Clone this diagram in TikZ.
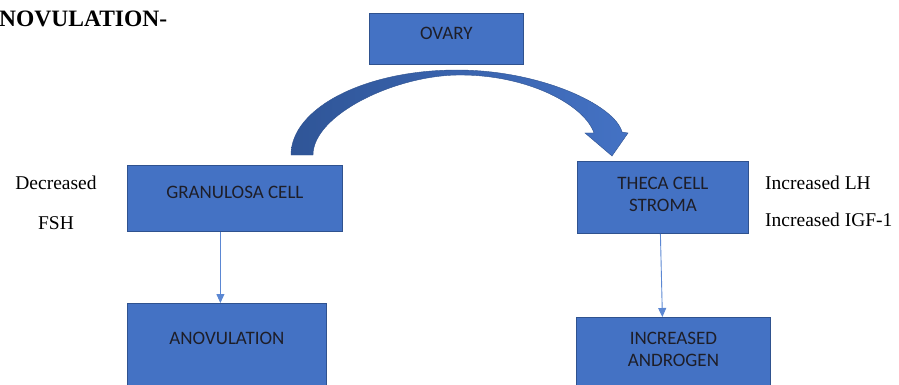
\documentclass[tikz,border=0pt]{standalone}
\usepackage{fontspec}
\setmainfont{Liberation Serif}
\newfontfamily\boxfont{Carlito}
\usetikzlibrary{arrows.meta}
\definecolor{boxblue}{HTML}{4472C4}
\definecolor{boxedge}{HTML}{2F528F}
\definecolor{arcdark}{HTML}{2F5597}
\definecolor{connblue}{HTML}{5B87D3}
\definecolor{boxtext}{HTML}{1E1E28}
\begin{document}
\begin{tikzpicture}[x=1pt,y=-1pt,
  bluebox/.style={draw=boxedge, line width=0.8pt, fill=boxblue, inner sep=0pt, anchor=north west},
  boxlabel/.style={font=\boxfont\fontsize{19}{22}\selectfont, text=boxtext, align=center, anchor=center, inner sep=0pt},
  sidelabel/.style={font=\fontsize{19.5}{23}\selectfont, inner sep=0pt},
  conn/.style={draw=connblue, line width=0.9pt, -{Triangle[width=8pt,length=9pt]}},
  bigarrow/.style={left color=arcdark, right color=boxblue, draw=boxedge, line width=0.4pt}]
\clip (0,0) rectangle (899,385);
\useasboundingbox (0,0) rectangle (899,385);

% title
\node[anchor=base west, font=\bfseries\fontsize{23.5}{28}\selectfont, inner sep=0pt] (title) at (-1,27) {NOVULATION-};

% boxes
\node[bluebox, minimum width=154pt, minimum height=51pt,
      label={[boxlabel, yshift=-20pt]north:OVARY}] (ovary) at (369,13) {};
\node[bluebox, minimum width=215pt, minimum height=66pt,
      label={[boxlabel, yshift=-27pt]north:GRANULOSA CELL}] (gran) at (127,165) {};
\node[bluebox, minimum width=171pt, minimum height=72pt,
      label={[boxlabel, yshift=-33pt]north:{THECA CELL\\STROMA}}] (theca) at (577,161) {};
\node[bluebox, minimum width=199pt, minimum height=100pt,
      label={[boxlabel, yshift=-35pt]north:ANOVULATION}] (anov) at (127,303) {};
\node[bluebox, minimum width=194pt, minimum height=90pt,
      label={[boxlabel, yshift=-32pt]north:{INCREASED\\ANDROGEN}}] (andro) at (576,317) {};

% side labels
\node[sidelabel] (dec) at (56,183) {Decreased};
\node[sidelabel] (fsh) at (56,223) {FSH};
\node[sidelabel, anchor=west] (lh) at (765,183) {Increased LH};
\node[sidelabel, anchor=west] (igf) at (765,220) {Increased IGF-1};

% big curved arrow
\path[bigarrow]
 (291,155) .. controls (291,108) and (365,70) .. (457,70)
 .. controls (540,70) and (615,105) .. (622,132)
 -- (628,133) -- (612,156) -- (585,133) -- (594,133)
 .. controls (585,106) and (530,75) .. (460,75)
 .. controls (395,75) and (313,115) .. (313,155) -- cycle;

% connectors
\draw[conn] ([xshift=-14.5pt]gran.south) -- ([xshift=-6.5pt]anov.north);
\draw[conn] ([xshift=-2.5pt]theca.south) -- ([xshift=-11pt]andro.north);
\end{tikzpicture}
\end{document}
